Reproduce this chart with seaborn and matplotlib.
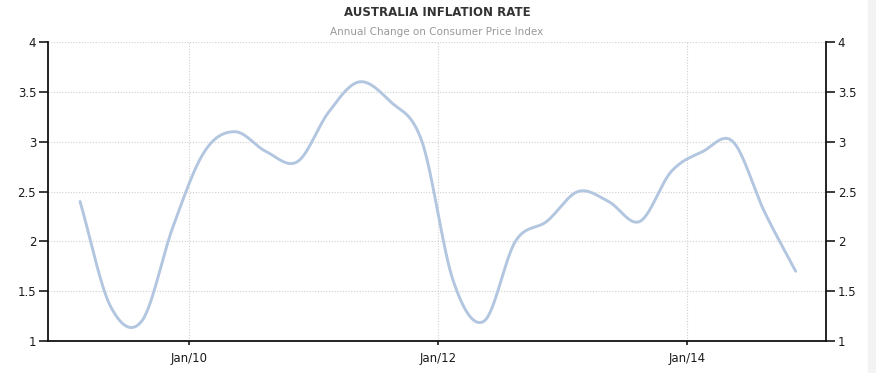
import numpy as np
import pandas as pd
import matplotlib
matplotlib.use("Agg")
import matplotlib.pyplot as plt
import matplotlib.dates as mdates
import seaborn as sns

# quarterly annual CPI change
quarters = pd.date_range("2009-02-15", periods=24, freq=pd.DateOffset(months=3))
inflation = [2.4, 1.35, 1.2, 2.15, 2.9, 3.1, 2.9, 2.8, 3.3, 3.6, 3.4, 3.0,
             1.6, 1.2, 2.0, 2.2, 2.5, 2.4, 2.2, 2.7, 2.9, 3.0, 2.3, 1.7]
y_ticks = [1, 1.5, 2, 2.5, 3, 3.5, 4]
y_labels = ["1", "1.5", "2", "2.5", "3", "3.5", "4"]
x_ticks = pd.to_datetime(["2010-01-01", "2012-01-01", "2014-01-01"])

sns.set_style("white")
plt.rcParams['font.family'] = ['DejaVu Sans']

# smooth the line like the original chart (Catmull-Rom through the points)
xn = mdates.date2num(quarters)
yv = np.array(inflation)
n = len(yv)
tang = np.zeros(n)
tang[1:-1] = (yv[2:] - yv[:-2]) / 2
tang[0] = yv[1] - yv[0]
tang[-1] = yv[-1] - yv[-2]
sx, sy = [], []
t = np.linspace(0, 1, 30, endpoint=False)
h00 = 2 * t**3 - 3 * t**2 + 1
h10 = t**3 - 2 * t**2 + t
h01 = -2 * t**3 + 3 * t**2
h11 = t**3 - t**2
for i in range(n - 1):
    sx.extend(xn[i] + t * (xn[i + 1] - xn[i]))
    sy.extend(h00 * yv[i] + h10 * tang[i] + h01 * yv[i + 1] + h11 * tang[i + 1])
sx.append(xn[-1])
sy.append(yv[-1])
smooth = pd.DataFrame({"date": mdates.num2date(sx), "value": sy})
smooth["date"] = smooth["date"].dt.tz_localize(None)

fig = plt.figure(figsize=(8.76, 3.73), dpi=100)
ax = fig.add_axes([48 / 876, 1 - 341 / 373, (826 - 48) / 876, (341 - 42) / 373])

sns.lineplot(data=smooth, x="date", y="value", ax=ax, color="#b2c6e0",
             linewidth=2.1, sort=False)

ax.set_xlim(pd.Timestamp("2008-11-13"), pd.Timestamp("2015-02-12"))
ax.set_ylim(1, 4)
ax.set_yticks(y_ticks)
ax.set_yticklabels(y_labels)
ax.set_xticks(x_ticks)
ax.xaxis.set_major_formatter(mdates.DateFormatter("%b/%y"))
ax.set_xlabel("")
ax.set_ylabel("")

ax.grid(True, linestyle=(0, (1, 1.5)), color="#d0d0d0", linewidth=0.8)
ax.spines["top"].set_visible(False)
for s in ["left", "bottom", "right"]:
    ax.spines[s].set_color("#111111")
    ax.spines[s].set_linewidth(1.3)

ax.tick_params(axis="y", direction="out", length=6.5, width=1.2, pad=2,
               labelsize=8.5, colors="#1a1a1a", left=True, right=True,
               labelleft=True, labelright=True)
ax.tick_params(axis="x", direction="out", length=3, width=1.2, pad=5,
               labelsize=8.5, colors="#1a1a1a", bottom=True)

fig.text(0.499, 1 - 12 / 373, "AUSTRALIA INFLATION RATE", ha="center",
         va="center", fontsize=8.5, fontweight="bold", color="#333333")
fig.text(0.499, 1 - 32 / 373, "Annual Change on Consumer Price Index",
         ha="center", va="center", fontsize=7.5, color="#999999")

fig.patches.append(plt.Rectangle((868 / 876, 0), 8 / 876, 1, transform=fig.transFigure,
                                 color="#f3f3f3", zorder=-1))

fig.savefig("out.png", dpi=100)
